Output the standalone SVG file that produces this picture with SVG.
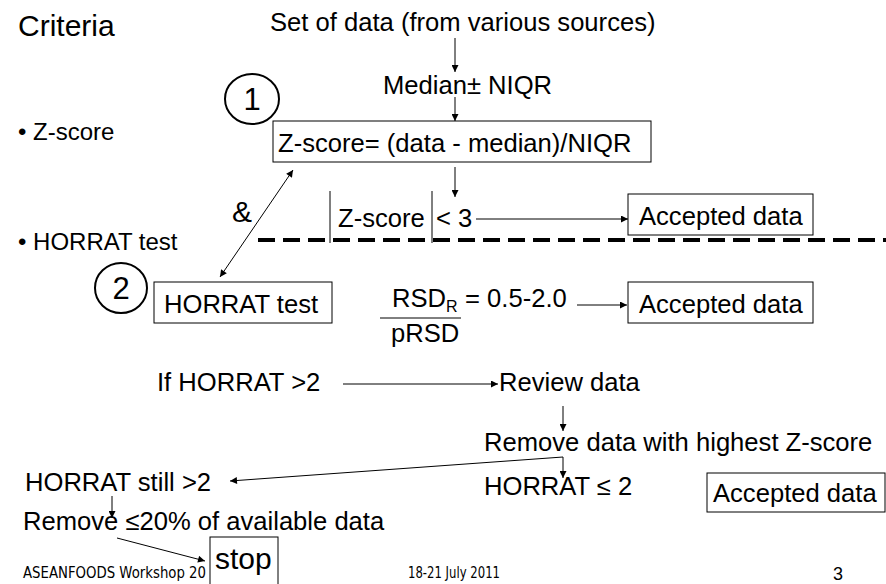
<svg xmlns="http://www.w3.org/2000/svg" width="886" height="584" viewBox="0 0 886 584">
  <defs>
    <marker id="ah" viewBox="0 0 10 10" refX="10" refY="5" markerWidth="8" markerHeight="7" markerUnits="userSpaceOnUse" orient="auto-start-reverse">
      <path d="M0,0 L10,5 L0,10 z" fill="#000"/>
    </marker>
  </defs>
  <style>
    text { font-family: "Liberation Sans", Arial, sans-serif; fill: #000; }
    .t { font-size: 25.6px; }
    .big { font-size: 30px; }
    .bul { font-size: 24px; }
    .box { fill: #fff; stroke: #000; stroke-width: 1; }
    .ln { stroke: #000; stroke-width: 1; fill: none; }
    .arr { marker-end: url(#ah); }
    .both { marker-start: url(#ah); marker-end: url(#ah); }
    .ring { fill: none; stroke: #000; stroke-width: 2; }
    .foot { font-size: 15px; font-family: "DejaVu Sans", sans-serif; }
  </style>

  <rect x="0" y="0" width="886" height="584" fill="#fff"/>

  <!-- left column: criteria list -->
  <g id="criteria">
    <text class="big" x="18" y="36">Criteria</text>
    <text class="bul" x="18" y="140">• Z-score</text>
    <text class="bul" x="18" y="250">• HORRAT test</text>
  </g>

  <!-- divider between the two criteria -->
  <line x1="258" y1="240" x2="886" y2="240" stroke="#000" stroke-width="4" stroke-dasharray="17 8"/>

  <!-- connectors -->
  <g id="connectors">
    <line class="ln arr" x1="455" y1="38" x2="455" y2="72"/>
    <line class="ln arr" x1="455" y1="97" x2="455" y2="121"/>
    <line class="ln arr" x1="455" y1="167" x2="455" y2="197"/>
    <line class="ln both" x1="293" y1="170" x2="220" y2="277"/>
    <line class="ln arr" x1="476" y1="219" x2="628" y2="219"/>
    <line class="ln arr" x1="577" y1="305" x2="627" y2="305"/>
    <line class="ln arr" x1="343" y1="384" x2="498" y2="384"/>
    <line class="ln arr" x1="563" y1="406" x2="563" y2="431"/>
    <line class="ln arr" x1="563" y1="457" x2="230" y2="481"/>
    <line class="ln arr" x1="563" y1="457" x2="563" y2="478"/>
    <line class="ln arr" x1="112" y1="496" x2="112" y2="518"/>
    <line class="ln arr" x1="117" y1="538" x2="205" y2="561"/>
  </g>

  <g id="source">
    <text class="t" x="270" y="31">Set of data (from various sources)</text>
  </g>

  <g id="median">
    <text class="t" x="383" y="94">Median± NIQR</text>
  </g>

  <g id="step1">
    <ellipse class="ring" cx="252" cy="99" rx="27" ry="25"/>
    <text x="252" y="110" font-size="31" text-anchor="middle">1</text>
  </g>

  <g id="zscore-formula">
    <rect class="box" x="273" y="121" width="378" height="41"/>
    <text class="t" x="278" y="152">Z-score= (data - median)/NIQR</text>
  </g>

  <g id="and">
    <text class="big" x="232" y="222">&amp;</text>
  </g>

  <g id="zscore-test">
    <line class="ln" x1="330" y1="191" x2="330" y2="243"/>
    <line class="ln" x1="432" y1="191" x2="432" y2="243"/>
    <text class="t" x="338" y="227">Z-score</text>
    <text class="t" x="436" y="227">&lt; 3</text>
  </g>

  <g id="accepted-1">
    <rect class="box" x="628" y="194" width="185" height="41"/>
    <text class="t" x="639" y="225">Accepted data</text>
  </g>

  <g id="step2">
    <ellipse class="ring" cx="121" cy="288" rx="26" ry="25"/>
    <text x="121" y="299" font-size="31" text-anchor="middle">2</text>
  </g>

  <g id="horrat-test">
    <rect class="box" x="154" y="282" width="178" height="41"/>
    <text class="t" x="164" y="313">HORRAT test</text>
  </g>

  <g id="horrat-ratio">
    <text class="t" x="392" y="307">RSD<tspan font-size="16" dy="5">R</tspan></text>
    <text class="t" x="465" y="307">= 0.5-2.0</text>
    <line class="ln" x1="380" y1="318" x2="461" y2="318"/>
    <text class="t" x="391" y="342">pRSD</text>
  </g>

  <g id="accepted-2">
    <rect class="box" x="628" y="282" width="185" height="41"/>
    <text class="t" x="639" y="313">Accepted data</text>
  </g>

  <g id="if-horrat">
    <text class="t" x="157" y="391">If HORRAT &gt;2</text>
  </g>

  <g id="review">
    <text class="t" x="499" y="391">Review data</text>
  </g>

  <g id="remove-highest">
    <text class="t" x="484" y="451">Remove data with highest Z-score</text>
  </g>

  <g id="horrat-still">
    <text class="t" x="25" y="491">HORRAT still &gt;2</text>
  </g>

  <g id="horrat-ok">
    <text class="t" x="484" y="495">HORRAT ≤ 2</text>
  </g>

  <g id="accepted-3">
    <rect class="box" x="707" y="473" width="178" height="39"/>
    <text class="t" x="713" y="502">Accepted data</text>
  </g>

  <g id="remove-20">
    <text class="t" x="23" y="530">Remove ≤20% of available data</text>
  </g>

  <!-- footer -->
  <g id="footer">
    <text class="foot" x="23" y="578" textLength="183" lengthAdjust="spacingAndGlyphs">ASEANFOODS Workshop 20</text>
    <text class="foot" x="408" y="578" textLength="92" lengthAdjust="spacingAndGlyphs">18-21 July 2011</text>
    <text x="833" y="580" font-size="18">3</text>
  </g>

  <g id="stop">
    <rect class="box" x="210" y="537" width="68" height="50"/>
    <text class="big" x="215" y="569">stop</text>
  </g>
</svg>
